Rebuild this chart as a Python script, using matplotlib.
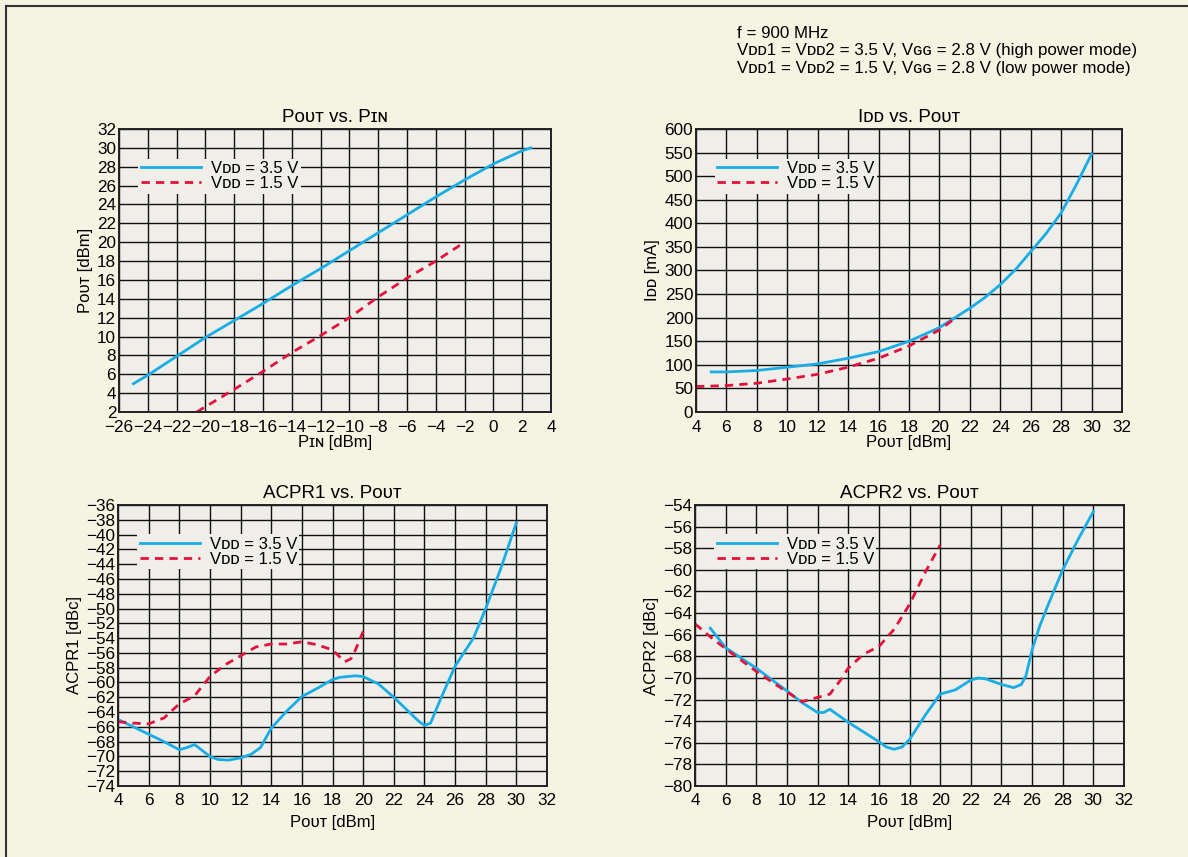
import matplotlib
matplotlib.use("Agg")
import matplotlib.pyplot as plt
import numpy as np
from matplotlib.lines import Line2D

plt.rcParams['font.family'] = ['Liberation Sans', 'DejaVu Sans']
plt.rcParams['axes.unicode_minus'] = True

# Pout vs Pin
pin_hi = [-25, -24, -22, -20, -18, -16, -14, -12, -10, -8, -6, -4, -2, 0, 1, 2, 2.6]
pout_hi = [5.0, 5.9, 7.9, 9.9, 11.7, 13.5, 15.4, 17.2, 19.1, 21.0, 22.9, 24.8, 26.6, 28.3, 29.0, 29.7, 30.0]
pin_lo = [-20.6, -18, -16, -14, -12, -10, -8, -6, -4, -2]
pout_lo = [2.0, 4.4, 6.3, 8.3, 10.1, 12.0, 14.2, 16.2, 18.0, 20.0]

# Idd vs Pout
idd_x_hi = [5, 6, 8, 10, 12, 14, 16, 18, 20, 22, 23, 24, 25, 26, 27, 28, 29, 30]
idd_hi = [85, 85, 88, 95, 102, 114, 128, 150, 179, 220, 243, 270, 302, 340, 378, 422, 482, 547]
idd_x_lo = [4, 6, 8, 10, 12, 14, 16, 18, 20, 21]
idd_lo = [54, 56, 61, 70, 80, 95, 114, 140, 174, 198]

# ACPR1 vs Pout
a1_x_hi = [4, 5, 6, 7, 8, 8.5, 9, 9.5, 10, 10.5, 11.2, 12, 12.7, 13.3, 14, 15, 16, 17, 18, 18.5, 19, 19.5, 20, 21, 22, 23, 23.6, 24, 24.4, 25, 26, 27.2, 28, 29, 30]
a1_hi = [-65.0, -66.0, -67.0, -68.0, -69.1, -68.8, -68.4, -69.2, -70.0, -70.4, -70.5, -70.2, -69.7, -68.8, -66.2, -63.9, -61.9, -60.8, -59.6, -59.3, -59.2, -59.1, -59.2, -60.2, -62.0, -64.0, -65.2, -65.8, -65.5, -62.5, -57.8, -54.0, -50.0, -44.5, -38.4]
a1_x_lo = [4, 5, 6, 7, 8, 9, 10, 11, 12, 13, 14, 15, 16, 17, 18, 18.5, 18.8, 19.2, 19.5, 20]
a1_lo = [-65.3, -65.5, -65.6, -64.8, -62.9, -61.8, -59.2, -57.6, -56.4, -55.2, -54.8, -54.8, -54.5, -54.9, -55.6, -56.6, -57.2, -56.8, -55.6, -53.1]

# ACPR2 vs Pout
a2_x_hi = [5, 6, 8, 10, 11, 12, 12.4, 12.8, 14, 16, 16.5, 17, 17.5, 18, 19, 20, 21, 22, 22.5, 23, 24, 24.8, 25.3, 25.6, 26, 26.5, 27, 28, 29, 30]
a2_hi = [-65.4, -67.2, -69.1, -71.2, -72.3, -73.2, -73.2, -72.9, -74.1, -75.9, -76.4, -76.6, -76.4, -75.7, -73.5, -71.5, -71.1, -70.2, -70.0, -70.1, -70.6, -70.9, -70.6, -69.8, -67.4, -65.2, -63.4, -60.0, -57.2, -54.6]
a2_x_lo = [4, 5, 6, 8, 10, 11, 12, 12.8, 13.5, 14, 15, 16, 17, 18, 19, 20]
a2_lo = [-65.0, -66.2, -67.3, -69.4, -71.3, -72.2, -71.8, -71.5, -70.2, -69.1, -67.8, -67.1, -65.5, -63.2, -60.3, -57.7]

BLUE = '#19ade6'
RED = '#e3113c'
BG = '#f5f3e2'
AXBG = '#efeee9'

W, H = 1188, 857
fig = plt.figure(figsize=(W / 100, H / 100), dpi=100, facecolor=BG)


def px_axes(x0, y0, x1, y1):
    return fig.add_axes([x0 / W, 1 - y1 / H, (x1 - x0) / W, (y1 - y0) / H])


def style(ax, xlim, xstep, ylim, ystep, title, xlabel, ylabel, xpad, xlpad):
    ax.set_facecolor(AXBG)
    ax.set_xlim(*xlim)
    ax.set_ylim(*ylim)
    ax.set_xticks(np.arange(xlim[0], xlim[1] + 0.01, xstep))
    ax.set_yticks(np.arange(ylim[0], ylim[1] + 0.01, ystep))
    ax.grid(True, color='#111111', lw=1.0)
    ax.set_axisbelow(True)
    ax.tick_params(length=0, pad=2, labelsize=12.3)
    ax.tick_params(axis='x', pad=xpad)
    for s in ax.spines.values():
        s.set_linewidth(1.4)
        s.set_color('#222222')
    ax.set_title(title, fontsize=13.5, pad=5)
    ax.set_xlabel(xlabel, fontsize=12, labelpad=xlpad)
    ax.set_ylabel(ylabel, fontsize=12, labelpad=3)


def legend(ax):
    handles = [Line2D([], [], color=BLUE, lw=2),
               Line2D([], [], color=RED, lw=2, ls=(0, (3, 2.2)))]
    leg = ax.legend(handles, ['V\u1d05\u1d05 = 3.5 V', 'V\u1d05\u1d05 = 1.5 V'],
                    loc='upper left', bbox_to_anchor=(0.025, 0.925), fontsize=12,
                    frameon=True, facecolor=AXBG, edgecolor='none', framealpha=1,
                    handlelength=3.6, handletextpad=0.6, borderpad=0.15,
                    labelspacing=0.0, fancybox=False)
    leg.get_frame().set_linewidth(0)


dash = (0, (3, 2.2))

ax1 = px_axes(119, 129, 551, 412)
style(ax1, (-26, 4), 2, (2, 32), 2, 'P\u1d0f\u1d1c\u1d1b vs. P\u026a\u0274',
      'P\u026a\u0274 [dBm]', 'P\u1d0f\u1d1c\u1d1b [dBm]', 6, 0)
ax1.plot(pin_hi, pout_hi, color=BLUE, lw=2)
ax1.plot(pin_lo, pout_lo, color=RED, lw=2, ls=dash)
legend(ax1)

ax2 = px_axes(696, 129, 1122, 412)
style(ax2, (4, 32), 2, (0, 600), 50, 'I\u1d05\u1d05 vs. P\u1d0f\u1d1c\u1d1b',
      'P\u1d0f\u1d1c\u1d1b [dBm]', 'I\u1d05\u1d05 [mA]', 6, 0)
ax2.plot(idd_x_hi, idd_hi, color=BLUE, lw=2)
ax2.plot(idd_x_lo, idd_lo, color=RED, lw=2, ls=dash)
legend(ax2)

ax3 = px_axes(118, 505, 547, 786)
style(ax3, (4, 32), 2, (-74, -36), 2, 'ACPR1 vs. P\u1d0f\u1d1c\u1d1b',
      'P\u1d0f\u1d1c\u1d1b [dBm]', 'ACPR1 [dBc]', 5, 5)
ax3.plot(a1_x_hi, a1_hi, color=BLUE, lw=2)
ax3.plot(a1_x_lo, a1_lo, color=RED, lw=2, ls=dash)
legend(ax3)

ax4 = px_axes(695, 505, 1124, 786)
style(ax4, (4, 32), 2, (-80, -54), 2, 'ACPR2 vs. P\u1d0f\u1d1c\u1d1b',
      'P\u1d0f\u1d1c\u1d1b [dBm]', 'ACPR2 [dBc]', 5, 5)
ax4.plot(a2_x_hi, a2_hi, color=BLUE, lw=2)
ax4.plot(a2_x_lo, a2_lo, color=RED, lw=2, ls=dash)
legend(ax4)

header = ['f = 900 MHz',
          'V\u1d05\u1d051 = V\u1d05\u1d052 = 3.5 V, V\u0262\u0262 = 2.8 V (high power mode)',
          'V\u1d05\u1d051 = V\u1d05\u1d052 = 1.5 V, V\u0262\u0262 = 2.8 V (low power mode)']
for i, line in enumerate(header):
    fig.text(737 / W, 1 - (33 + 17.5 * i) / H, line, fontsize=12.2, va='center', ha='left')

# figure frame (top and left edges)
fig.add_artist(Line2D([6 / W, 6 / W], [0, 1 - 6 / H], color='#333333', lw=1.5,
                      transform=fig.transFigure))
fig.add_artist(Line2D([6 / W, 1], [1 - 6 / H, 1 - 6 / H], color='#333333', lw=1.5,
                      transform=fig.transFigure))

fig.savefig('out.png', dpi=100, facecolor=BG)
